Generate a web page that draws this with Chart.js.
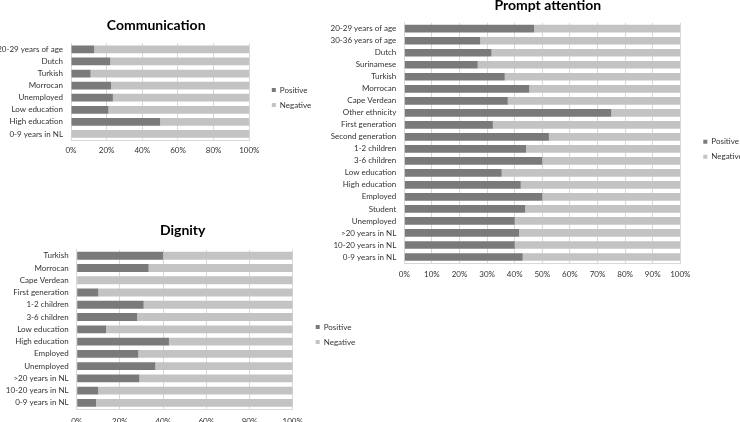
<!DOCTYPE html>
<html>
<head>
<meta charset="utf-8">
<script src="https://cdn.jsdelivr.net/npm/chart.js@4.4.1/dist/chart.umd.min.js"></script>
<style>
  body { margin: 0; width: 740px; height: 422px; overflow: hidden; background: #fff; position: relative; }
  canvas { position: absolute; }
</style>
</head>
<body>
<canvas id="commChart" width="340" height="160" style="left:0;top:0"></canvas>
<canvas id="dignityChart" width="360" height="219" style="left:0;top:210px"></canvas>
<canvas id="promptChart" width="420" height="286" style="left:320px;top:-3px"></canvas>
<script>
// Communication
const commLabels = ['20-29 years of age', 'Dutch', 'Turkish', 'Morrocan', 'Unemployed', 'Low education', 'High education', '0-9 years in NL'];
const commPositive = [13, 22, 11, 22.5, 23.5, 21, 50, 0];
const commNegative = [87, 78, 89, 77.5, 76.5, 79, 50, 100];

// Dignity
const dignityLabels = ['Turkish', 'Morrocan', 'Cape Verdean', 'First generation', '1-2 children', '3-6 children', 'Low education', 'High education', 'Employed', 'Unemployed', '>20 years in NL', '10-20 years in NL', '0-9 years in NL'];
const dignityPositive = [40, 33.3, 0, 10, 31, 28, 13.6, 42.7, 28.5, 36.4, 29, 10, 9];
const dignityNegative = [60, 66.7, 100, 90, 69, 72, 86.4, 57.3, 71.5, 63.6, 71, 90, 91];

// Prompt attention
const promptLabels = ['20-29 years of age', '30-36 years of age', 'Dutch', 'Surinamese', 'Turkish', 'Morrocan', 'Cape Verdean', 'Other ethnicity', 'First generation', 'Second generation', '1-2 children', '3-6 children', 'Low education', 'High education', 'Employed', 'Student', 'Unemployed', '>20 years in NL', '10-20 years in NL', '0-9 years in NL'];
const promptPositive = [47, 27.5, 31.6, 26.6, 36.4, 45.3, 37.5, 75, 32.1, 52.4, 44.1, 50, 35.3, 42.2, 50, 43.8, 40, 41.6, 40, 42.9];
const promptNegative = [53, 72.5, 68.4, 73.4, 63.6, 54.7, 62.5, 25, 67.9, 47.6, 55.9, 50, 64.7, 57.8, 50, 56.2, 60, 58.4, 60, 57.1];

const seriesNames = ['Positive', 'Negative'];
const seriesColors = ['#7a7a7a', '#c3c3c3'];

Chart.defaults.font.family = 'Lato';
Chart.defaults.font.size = 8;
Chart.defaults.color = '#333';
Chart.defaults.animation = false;

// moves title and legend to where the spreadsheet put them
function boxPlacer(titleX, gap, firstY) {
    return {
        id: 'boxPlacer',
        afterUpdate(chart) {
            const t = chart.titleBlock;
            t.left = 0;
            t.right = titleX * 2;
            t.width = titleX * 2;

            const lg = chart.legend;
            const pad = lg.options.labels.padding;
            lg.left = chart.chartArea.right + gap - pad;
            lg.right = lg.left + 90;
            lg.width = 90;
            lg.top = firstY - 4 - pad;
            lg.bottom = lg.top + pad + 30;
        }
    };
}

function makeChart(id, title, labels, positive, negative, cfg) {
    new Chart(document.getElementById(id), {
        type: 'bar',
        data: {
            labels: labels,
            datasets: [
                { label: seriesNames[0], data: positive, backgroundColor: seriesColors[0] },
                { label: seriesNames[1], data: negative, backgroundColor: seriesColors[1] }
            ]
        },
        options: {
            indexAxis: 'y',
            responsive: false,
            barPercentage: 0.64,
            categoryPercentage: 1,
            layout: { padding: { left: 0, right: cfg.padRight, top: 0, bottom: 0 } },
            scales: {
                x: {
                    stacked: true,
                    min: 0,
                    max: 100,
                    ticks: { stepSize: cfg.step, padding: cfg.tickPad, callback: v => v + '%' },
                    grid: { color: '#d9d9d9', drawTicks: false },
                    border: { color: '#d9d9d9' },
                    afterFit: s => { s.height = 20; }
                },
                y: {
                    stacked: true,
                    ticks: { padding: 8, autoSkip: false },
                    grid: { display: false, drawTicks: false },
                    border: { color: '#d9d9d9' },
                    afterFit: s => { s.width = cfg.yWidth; }
                }
            },
            plugins: {
                title: {
                    display: true,
                    text: title,
                    color: '#000',
                    font: { size: 14, weight: 'bold' },
                    padding: cfg.titlePad
                },
                legend: {
                    position: 'right',
                    maxWidth: 40,
                    labels: { boxWidth: 4, boxHeight: 4, padding: 7, color: '#333' }
                },
                tooltip: { enabled: false }
            }
        },
        plugins: [boxPlacer(cfg.titleX, cfg.legendGap, cfg.legendY)]
    });
}

makeChart('commChart', 'Communication', commLabels, commPositive, commNegative, {
    padRight: 50.7, yWidth: 71, step: 20, tickPad: 5.4, titleX: 156.2,
    titlePad: { top: 16.6, bottom: 9.9 }, legendGap: 22.5, legendY: 90
});

makeChart('dignityChart', 'Dignity', dignityLabels, dignityPositive, dignityNegative, {
    padRight: 27.3, yWidth: 76.7, step: 20, tickPad: 7.5, titleX: 182.7,
    titlePad: { top: 12.3, bottom: 10.5 }, legendGap: 23, legendY: 117
});

makeChart('promptChart', 'Prompt attention', promptLabels, promptPositive, promptNegative, {
    padRight: 19.7, yWidth: 84.3, step: 10, tickPad: 6.2, titleX: 227.8,
    titlePad: { top: 0, bottom: 8.9 }, legendGap: 23, legendY: 144.7
});
</script>
</body>
</html>
